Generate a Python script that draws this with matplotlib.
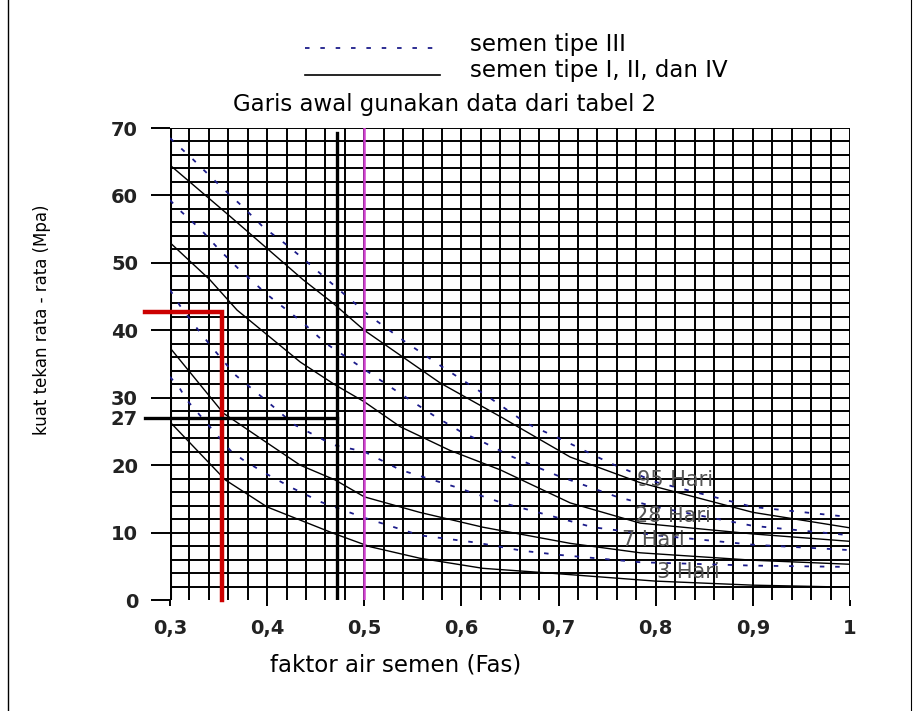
import matplotlib.pyplot as plt
import numpy as np

plt.rcParams['font.family'] = ['DejaVu Sans']

# curves (x = fas, y = MPa)
# semen tipe I, II, IV (solid)
x_91 = [0.30, 0.361, 0.437, 0.468, 0.50, 0.578, 0.64, 0.712, 0.784, 0.90, 1.00]
y_91 = [64.5, 57.0, 47.5, 44.0, 40.0, 32.2, 27.2, 21.2, 17.4, 13.0, 10.7]
x_28 = [0.30, 0.341, 0.369, 0.434, 0.47, 0.50, 0.537, 0.588, 0.64, 0.712, 0.784, 0.90, 1.00]
y_28 = [53.0, 47.5, 43.0, 35.3, 31.9, 29.4, 25.7, 22.2, 19.3, 14.4, 11.4, 9.8, 8.7]
x_7 = [0.30, 0.355, 0.40, 0.434, 0.47, 0.50, 0.557, 0.622, 0.712, 0.784, 0.90, 1.00]
y_7 = [37.4, 27.7, 23.3, 20.0, 17.8, 15.3, 13.0, 10.8, 8.4, 7.0, 5.9, 5.3]
x_3 = [0.30, 0.357, 0.40, 0.468, 0.506, 0.557, 0.622, 0.69, 0.80, 0.90, 1.00]
y_3 = [26.4, 17.8, 13.8, 9.9, 7.9, 6.2, 4.7, 4.0, 2.8, 2.2, 1.9]

# semen tipe III (dashed)
xd_91 = [0.30, 0.324, 0.343, 0.375, 0.396, 0.418, 0.439, 0.462, 0.504, 0.542,
         0.58, 0.629, 0.667, 0.709, 0.753, 0.80, 0.90, 1.00]
yd_91 = [68.5, 65.3, 62.6, 58.3, 55.3, 52.9, 50.4, 47.5, 42.3, 38.3,
         34.6, 30.0, 26.2, 23.4, 20.3, 17.5, 13.8, 12.3]
xd_28 = [0.30, 0.31, 0.332, 0.351, 0.37, 0.40, 0.437, 0.46, 0.496, 0.532, 0.571,
         0.60, 0.624, 0.653, 0.698, 0.76, 0.80, 0.90, 1.00]
yd_28 = [59.3, 57.8, 54.9, 51.9, 49.2, 45.3, 41.1, 38.1, 34.6, 31.1, 27.4,
         24.9, 23.3, 21.2, 18.5, 15.3, 13.8, 11.0, 9.6]
xd_7 = [0.30, 0.31, 0.325, 0.343, 0.367, 0.398, 0.428, 0.468, 0.50, 0.537,
        0.593, 0.64, 0.689, 0.735, 0.80, 0.90, 1.00]
yd_7 = [46.0, 43.7, 40.8, 37.5, 33.4, 29.7, 26.0, 23.0, 22.0, 19.3,
        16.8, 14.5, 12.6, 10.8, 9.6, 8.2, 7.4]
xd_3 = [0.30, 0.31, 0.317, 0.362, 0.375, 0.398, 0.426, 0.456, 0.50, 0.557,
        0.616, 0.663, 0.70, 0.784, 0.90, 1.00]
yd_3 = [33.1, 31.4, 29.7, 22.2, 20.8, 18.8, 16.6, 14.5, 12.2, 9.6,
        8.5, 7.3, 6.7, 5.6, 5.1, 4.9]

curve_labels = ['95 Hari', '28 Hari', '7 Hari', '3 Hari']
label_x = [0.781, 0.779, 0.765, 0.801]
label_y = [17.8, 12.5, 8.9, 4.2]

yticks = [0, 10, 20, 27, 30, 40, 50, 60, 70]
xticks = [0.3, 0.4, 0.5, 0.6, 0.7, 0.8, 0.9, 1.0]
xtick_labels = ['0,3', '0,4', '0,5', '0,6', '0,7', '0,8', '0,9', '1']

fas_line = 0.472
fas_pink = 0.5
red_x, red_y = 0.3535, 42.7
black_y = 27

blue = '#1c1c8a'

fig = plt.figure(figsize=(9.15, 7.11), dpi=100)
ax = fig.add_axes([170/915, 1-600/711, 680/915, 472/711])
ax.set_xlim(0.3, 1.0)
ax.set_ylim(0, 70)
for s in ax.spines.values():
    s.set_visible(False)

# dense grid
for gx in np.arange(0.30, 1.001, 0.02):
    ax.plot([gx, gx], [0, 70], color='black', lw=1.4, zorder=1, solid_capstyle='butt')
for gy in np.arange(2, 70.1, 2):
    ax.plot([0.3, 1.0], [gy, gy], color='black', lw=1.4, zorder=1, solid_capstyle='butt')

# curves
for xs, ys in [(x_91, y_91), (x_28, y_28), (x_7, y_7), (x_3, y_3)]:
    ax.plot(xs, ys, color='black', lw=1.0, zorder=3)
for xs, ys in [(xd_91, yd_91), (xd_28, yd_28), (xd_7, yd_7), (xd_3, yd_3)]:
    ax.plot(xs, ys, color=blue, lw=1.3, dashes=(2.5, 6), zorder=3)

for t, lx, ly in zip(curve_labels, label_x, label_y):
    ax.text(lx, ly, t, fontsize=15, color='#555555', va='center', ha='left', zorder=4)

# helper lines
ax.plot([fas_line, fas_line], [0, 69.3], color='black', lw=2.4, zorder=5)
ax.plot([fas_pink, fas_pink], [0, 70], color='#d040d0', lw=1.8, zorder=5)
ax.plot([0.274, red_x, red_x], [red_y, red_y, 0], color='#cc0000', lw=3.2,
        zorder=6, clip_on=False, solid_joinstyle='miter')
ax.plot([0.274, fas_line], [black_y, black_y], color='black', lw=2.4,
        zorder=6, clip_on=False)

# ticks
ax.set_yticks(yticks)
ax.set_yticklabels([str(v) for v in yticks], fontsize=14, fontweight='bold',
                   color='#222222')
ax.tick_params(axis='y', length=14, width=1.4, pad=9)
ax.set_xticks(xticks)
ax.set_xticklabels(xtick_labels, fontsize=14, fontweight='bold', color='#222222')
ax.tick_params(axis='x', length=4, width=1.4, pad=10)
ax.plot([0.3, 0.3], [0, 70], color='black', lw=2.2, zorder=2)

fig.text(42/915, 1-320/711, 'kuat tekan rata - rata (Mpa)', fontsize=12,
         rotation=90, ha='center', va='center')
fig.text(270/915, 1-665/711, 'faktor air semen (Fas)', fontsize=16.5, va='center')
fig.text(445/915, 1-104/711, 'Garis awal gunakan data dari tabel 2', fontsize=16.5,
         ha='center', va='center')

# legend drawn by hand
fig.add_artist(plt.Line2D([305/915, 440/915], [1-48/711, 1-48/711],
                          color=blue, lw=1.3, dashes=(2.5, 6)))
fig.add_artist(plt.Line2D([305/915, 440/915], [1-75/711, 1-75/711],
                          color='black', lw=1.2))
fig.text(470/915, 1-45/711, 'semen tipe III', fontsize=16.5, va='center')
fig.text(470/915, 1-70/711, 'semen tipe I, II, dan IV', fontsize=16.5, va='center')

# outer frame edges
fig.add_artist(plt.Line2D([8/915, 8/915], [0, 1], color='black', lw=1.0))
fig.add_artist(plt.Line2D([911/915, 911/915], [0, 1], color='black', lw=0.8))

fig.savefig('out.png', dpi=100)
